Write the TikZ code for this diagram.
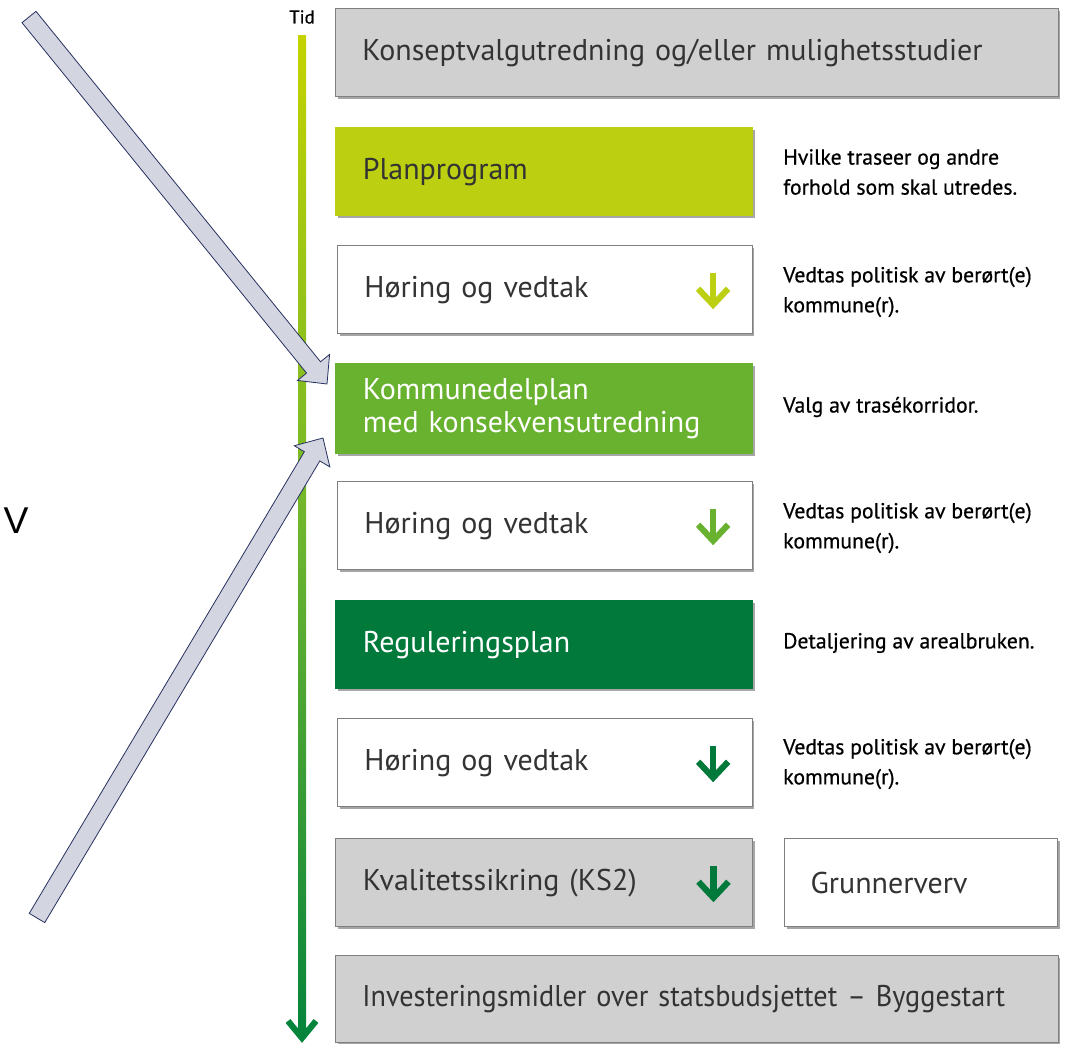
\documentclass[tikz,border=0pt]{standalone}
\usepackage{fontspec}
\setmainfont{PT Sans}
\newfontfamily\sidefont{PT Sans}[FakeBold=0.6]
\newfontfamily\narrowfont{PT Sans}[FakeStretch=0.94]
\newfontfamily\vfont{Liberation Sans}
\usetikzlibrary{calc,shadows}
\definecolor{boxgray}{HTML}{D0D0D0}
\definecolor{bordergray}{HTML}{7F7F7F}
\definecolor{ppgreen}{HTML}{BCCF11}
\definecolor{kdgreen}{HTML}{68B22F}
\definecolor{rpgreen}{HTML}{00793B}
\definecolor{txtgray}{HTML}{333333}
\definecolor{arrfill}{HTML}{D3D6E0}
\definecolor{arrline}{HTML}{26305F}
\definecolor{tltop}{HTML}{C4D300}
\definecolor{tlmid}{HTML}{6DB52E}
\definecolor{tlbot}{HTML}{05843C}
\tikzset{
  box/.style={draw=bordergray, line width=1.1pt, fill=white, anchor=north west,
    minimum height=66pt, inner xsep=20pt, align=left, text=txtgray,
    font=\fontsize{22.5}{24.75}\selectfont,
    drop shadow={shadow xshift=1.5pt, shadow yshift=-1.5pt, fill=black, opacity=0.35}},
  graybox/.style={box, fill=boxgray},
  colbox/.style={box, draw=#1, fill=#1, text=white},
  sidetext/.style={anchor=west, align=left, text=black, inner sep=0pt,
    font=\sidefont\fontsize{16.3}{22.5}\selectfont},
  icon/.style={line width=4.6pt, draw=#1},
  bigarrow/.style={fill=arrfill, draw=arrline, line width=0.6pt, line join=miter},
}
\begin{document}
\begin{tikzpicture}[x=0.75pt,y=-0.75pt]
\useasboundingbox (0,0) rectangle (1076,1044);

% timeline
\coordinate (tltopc) at (302,36);
\coordinate (tlbotc) at (302,1038);
\shade[top color=tltop, bottom color=tlbot, middle color=tlmid]
  (298,36) rectangle (306,1034);
\draw[tlbot, line width=4.6pt, line cap=butt, line join=miter]
  (288,1021) -- (tlbotc) -- (316,1021);
\node[font=\sidefont\fontsize{14}{16}\selectfont, inner sep=0pt] (tid) at (302,17) {Tid};

% boxes
\node[graybox, text width=502pt, minimum width=542pt] (kv) at (335,8)
  {Konseptvalgutredning og/eller mulighetsstudier};
\node[colbox=ppgreen, text=txtgray, text width=272pt, minimum width=312.75pt] (pp) at (335,127)
  {Planprogram};
\node[box, text width=271pt, minimum width=311pt] (h1) at (337,245)
  {Høring og vedtak};
\node[colbox=kdgreen, text width=272pt, minimum width=312.75pt, minimum height=67.5pt] (kd) at (335,363)
  {Kommunedelplan\\med konsekvensutredning};
\node[box, text width=271pt, minimum width=311pt] (h2) at (337,481)
  {Høring og vedtak};
\node[colbox=rpgreen, text width=272pt, minimum width=312.75pt] (rp) at (335,600)
  {Reguleringsplan};
\node[box, text width=271pt, minimum width=311pt] (h3) at (337,718)
  {Høring og vedtak};
\node[graybox, text width=272pt, minimum width=312.75pt] (ks) at (335,838)
  {Kvalitetssikring (KS2)};
\node[box, text width=166pt, minimum width=204.75pt, inner xsep=18.75pt] (gr) at (784,838)
  {Grunnerverv};
\node[graybox, text width=502pt, minimum width=542pt, minimum height=65.25pt] (inv) at (335,955)
  {\narrowfont\mbox{Investeringsmidler over statsbudsjettet – Byggestart}};

% icons
\foreach \n/\c in {h1/ppgreen, h2/kdgreen, h3/rpgreen, ks/rpgreen}{
  \draw[icon=\c] ($(\n.east)+(-40,-17)$) -- ($(\n.east)+(-40,14)$);
  \draw[icon=\c, line join=miter] ($(\n.east)+(-55,-1)$) -- ($(\n.east)+(-40,15)$) -- ($(\n.east)+(-25,-1)$);
}

% side texts
\node[sidetext] (s1) at (783,172) {Hvilke traseer og andre\\forhold som skal utredes.};
\node[sidetext] (s2) at (783,292) {Vedtas politisk av berørt(e)\\kommune(r).};
\node[sidetext] (s3) at (783,407) {Valg av trasékorridor.};
\node[sidetext] (s4) at (783,528) {Vedtas politisk av berørt(e)\\kommune(r).};
\node[sidetext] (s5) at (783,643) {Detaljering av arealbruken.};
\node[sidetext] (s6) at (783,764) {Vedtas politisk av berørt(e)\\kommune(r).};

% V
\node[font=\vfont\fontsize{28}{30}\selectfont, inner sep=0pt] (v) at (16,521) {V};

% big arrows
\coordinate (t1) at (29,17);
\coordinate (p1) at (327,384);
\coordinate (t2) at (37,918);
\coordinate (p2) at (323,438);
\foreach \t/\p in {t1/p1, t2/p2}{
  \coordinate (n) at ($(\p)!16pt!(\t)$);
  \draw[bigarrow]
    ($(\t)!6.75pt!90:(\p)$) -- ($(n)!6.75pt!-90:(\t)$) -- ($(n)!15.5pt!-90:(\t)$)
    -- (\p) -- ($(n)!15.5pt!90:(\t)$) -- ($(n)!6.75pt!90:(\t)$)
    -- ($(\t)!6.75pt!-90:(\p)$) -- cycle;
}
\end{tikzpicture}
\end{document}
